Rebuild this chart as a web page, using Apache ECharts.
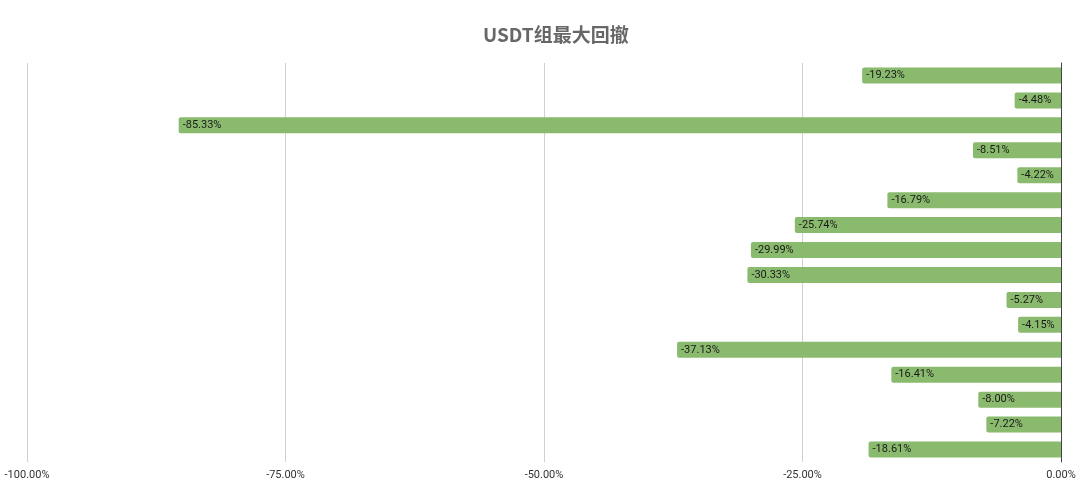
<!DOCTYPE html>
<html lang="zh">
<head>
    <meta charset="UTF-8">
    <title>USDT组最大回撤</title>
    <script src="https://cdn.jsdelivr.net/npm/echarts@6/dist/echarts.min.js"></script>
    <style>
        html,body{margin:0;padding:0;background:#fff}
        #chart{width:1080px;height:499px}
    </style>
</head>
<body>
<div id="chart"></div>
<script>
// 数据（从上到下）
var categories = ['1','2','3','4','5','6','7','8','9','10','11','12','13','14','15','16'];
var drawdowns = [-19.23,-4.48,-85.33,-8.51,-4.22,-16.79,-25.74,-29.99,-30.33,-5.27,-4.15,-37.13,-16.41,-8.00,-7.22,-18.61];
var xTicks = [-100,-75,-50,-25,0];

var myChart = echarts.init(document.getElementById('chart'));
var option = {
    animation:false,
    title:{
        text:'USDT组最大回撤',
        left:478,
        top:20,
        textStyle:{
            fontFamily:'"Noto Sans CJK SC", sans-serif',
            fontSize:19,
            fontWeight:'bold',
            color:'#676767'
        }
    },
    grid:{left:27,right:19,top:63,bottom:37},
    xAxis:{
        type:'value',
        min:xTicks[0],
        max:xTicks[xTicks.length-1],
        interval:25,
        axisLine:{show:false},
        axisTick:{show:false},
        splitLine:{lineStyle:{color:'#d0d0d0',width:1}},
        axisLabel:{
            margin:8,
            color:'#333',
            fontSize:11,
            fontFamily:'Roboto, sans-serif',
            formatter:function(v){return v.toFixed(2)+'%';}
        }
    },
    yAxis:{
        type:'category',
        data:categories,
        inverse:true,
        position:'right',
        axisLine:{show:true,onZero:false,lineStyle:{color:'#444',width:1}},
        axisTick:{show:false},
        axisLabel:{show:false}
    },
    series:[{
        type:'bar',
        data:drawdowns,
        barWidth:16,
        itemStyle:{color:'#8aba6e',borderRadius:[2,0,0,2]},
        label:{
            show:true,
            position:'insideLeft',
            distance:4,
            color:'#1a1a1a',
            fontSize:11,
            fontFamily:'Roboto, sans-serif',
            formatter:function(p){return p.value.toFixed(2)+'%';}
        }
    }]
};
myChart.setOption(option,true);
</script>
</body>
</html>
